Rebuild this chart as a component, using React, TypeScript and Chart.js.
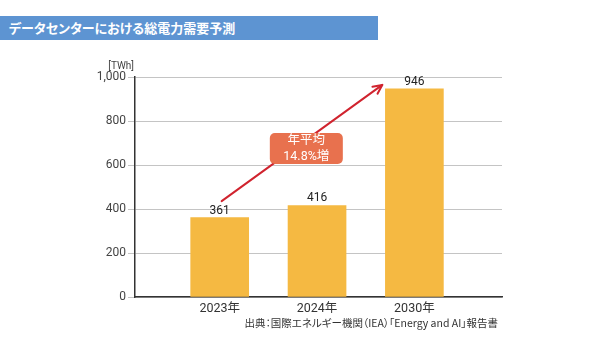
import React, { useEffect, useRef } from "react";
import { Chart, registerables } from "chart.js";

Chart.register(...registerables);

const title = "データセンターにおける総電力需要予測";
const source = "出典：国際エネルギー機関（IEA）「Energy and AI」報告書";
const unitLabel = "[TWh]";
const categories = ["2023年", "2024年", "2030年"];
const values = [361, 416, 946];
const yTicks = [0, 200, 400, 600, 800, 1000];
const growthLines = ["年平均", "14.8%増"];
// arrow in data coordinates (x = category index, y = TWh)
const arrowFrom = [0.02, 436];
const arrowTo = [1.67, 964];
const boxCenter = [0.89, 675];

const FONT = 'Roboto, "Noto Sans CJK JP", sans-serif';

export default function App() {
  const ref = useRef<HTMLCanvasElement | null>(null);

  useEffect(() => {
    const canvas = ref.current;
    if (!canvas) return;

    const overlay = {
      id: "overlay",
      afterDatasetsDraw(chart: any) {
        const ctx = chart.ctx;
        const xs = chart.scales.x;
        const ys = chart.scales.y;
        const meta = chart.getDatasetMeta(0);
        ctx.save();
        // value labels
        ctx.fillStyle = "#222";
        ctx.font = `12px ${FONT}`;
        ctx.textAlign = "center";
        ctx.textBaseline = "bottom";
        meta.data.forEach((bar: any, i: number) => {
          ctx.fillText(String(values[i]), bar.x, bar.y - 1);
        });
        // unit label
        ctx.fillStyle = "#444";
        ctx.font = `10px ${FONT}`;
        ctx.textAlign = "right";
        ctx.textBaseline = "middle";
        ctx.fillText(unitLabel, xs.left - 1, ys.top - 11);

        // arrow
        const x1 = xs.getPixelForValue(arrowFrom[0]);
        const y1 = ys.getPixelForValue(arrowFrom[1]);
        const x2 = xs.getPixelForValue(arrowTo[0]);
        const y2 = ys.getPixelForValue(arrowTo[1]);
        ctx.strokeStyle = "#D0232E";
        ctx.lineWidth = 2;
        ctx.lineCap = "round";
        ctx.lineJoin = "round";
        ctx.beginPath();
        ctx.moveTo(x1, y1);
        ctx.lineTo(x2, y2);
        ctx.stroke();
        const ang = Math.atan2(y2 - y1, x2 - x1);
        const hl = 10;
        ctx.beginPath();
        ctx.moveTo(x2 - hl * Math.cos(ang - 0.45), y2 - hl * Math.sin(ang - 0.45));
        ctx.lineTo(x2, y2);
        ctx.lineTo(x2 - hl * Math.cos(ang + 0.45), y2 - hl * Math.sin(ang + 0.45));
        ctx.stroke();

        // box
        const cx = xs.getPixelForValue(boxCenter[0]);
        const cy = ys.getPixelForValue(boxCenter[1]);
        const w = 73;
        const h = 31;
        ctx.fillStyle = "#E8714E";
        ctx.beginPath();
        (ctx as any).roundRect(cx - w / 2, cy - h / 2, w, h, 5);
        ctx.fill();
        ctx.fillStyle = "#fff";
        ctx.font = `12.5px ${FONT}`;
        ctx.textAlign = "center";
        ctx.textBaseline = "middle";
        ctx.fillText(growthLines[0], cx, cy - 7.5);
        ctx.fillText(growthLines[1], cx, cy + 8.5);
        ctx.restore();
      },
    };

    const chart = new Chart(canvas, {
      type: "bar",
      data: {
        datasets: [
          {
            data: values.map((v, i) => ({ x: i, y: v })),
            backgroundColor: "#F5B942",
            barThickness: 58,
          },
        ],
      },
      options: {
        animation: false,
        responsive: false,
        maintainAspectRatio: false,
        layout: { padding: { top: 77, right: 88, left: 0, bottom: 0 } },
        plugins: { legend: { display: false }, tooltip: { enabled: false } },
        scales: {
          x: {
            type: "linear",
            offset: false,
            min: -0.87,
            max: 2.9,
            afterBuildTicks: (s: any) => {
              s.ticks = categories.map((_, i) => ({ value: i }));
            },
            afterFit: (s: any) => {
              s.height = 44;
            },
            grid: { display: false, drawTicks: false, offset: false },
            border: { display: true, color: "#333", width: 1.5 },
            ticks: {
              padding: 4,
              color: "#333",
              font: { size: 12.5, family: FONT },
              callback: (v: any) => categories[v] ?? "",
              maxRotation: 0,
            },
          },
          y: {
            min: 0,
            max: 1000,
            afterBuildTicks: (s: any) => {
              s.ticks = yTicks.map((v) => ({ value: v }));
            },
            afterFit: (s: any) => {
              s.width = 135;
            },
            grid: { color: "#C4C4C4", lineWidth: 1, tickLength: 7, tickColor: "#C4C4C4" },
            border: { display: true, color: "#333", width: 1.5 },
            ticks: {
              padding: 2,
              color: "#444",
              font: { size: 12, family: FONT },
              callback: (v: any) => Number(v).toLocaleString("en-US"),
            },
          },
        },
      },
      plugins: [overlay],
    } as any);

    return () => chart.destroy();
  }, []);

  return (
    <div style={{ position: "fixed", left: 0, top: 0, width: 590, height: 341, background: "#fff", overflow: "hidden" }}>
      <div
        style={{
          position: "absolute",
          left: 0,
          top: 16,
          width: 378,
          height: 24,
          background: "#5D94D2",
        }}
      />
      <div
        style={{
          position: "absolute",
          left: 9,
          top: 16,
          height: 24,
          lineHeight: "24px",
          color: "#fff",
          fontWeight: 700,
          fontSize: 13,
          fontFamily: '"Noto Sans CJK JP", sans-serif',
          fontFeatureSettings: '"palt"',
          whiteSpace: "nowrap",
        }}
      >
        {title}
      </div>
      <canvas ref={ref} width={590} height={341} style={{ position: "absolute", left: 0, top: 0, width: 590, height: 341 }} />
      <div
        style={{
          position: "absolute",
          right: 92,
          top: 316,
          lineHeight: "14px",
          color: "#333",
          fontSize: 10.5,
          fontFamily: '"Noto Sans CJK JP", sans-serif',
          fontFeatureSettings: '"palt"',
          whiteSpace: "nowrap",
        }}
      >
        {source}
      </div>
    </div>
  );
}
